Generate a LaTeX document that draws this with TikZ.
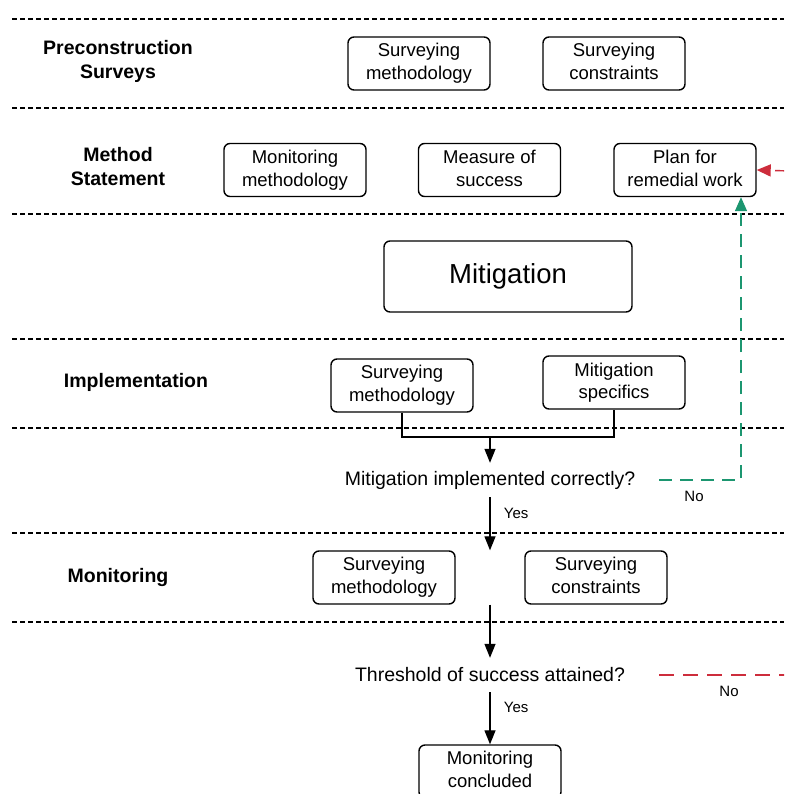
\documentclass[tikz,border=0pt]{standalone}
\usepackage{fontspec}
\setmainfont{Liberation Sans}
\usetikzlibrary{arrows.meta,calc}

\definecolor{noGreen}{RGB}{28,150,112}
\definecolor{noRed}{RGB}{205,45,60}

\tikzset{
    box/.style={draw, rounded corners=6pt, line width=1.4pt, minimum width=142pt,
        minimum height=53pt, align=center, inner sep=2pt,
        font=\fontsize{18.5}{23}\selectfont, execute at end node={\rule[-4pt]{0pt}{4pt}}},
    lane/.style={align=center, font=\bfseries\fontsize{19.5}{24}\selectfont},
    question/.style={inner sep=0pt, minimum height=34pt, font=\fontsize{19.5}{23}\selectfont},
    answer/.style={font=\fontsize{15}{18}\selectfont},
    sepline/.style={line width=1.3pt, dash pattern=on 5pt off 3pt},
    flow/.style={line width=1.3pt, -{Triangle[length=14pt,width=11pt]}},
    retry/.style={line width=1.4pt, dash pattern=on 13pt off 8pt, -{Triangle[length=14pt,width=12pt]}}
}

\begin{document}
\begin{tikzpicture}[x=1pt, y=-1pt]
        \clip (0,0) rectangle (784,794);
        \fill[white] (0,0) rectangle (784,794);

        % Draw the lane separators
        \foreach \y in {19,108,214,339,428,533,622}
            \draw[sepline] (12,\y) -- (784,\y);

        % Lane titles
        \node[lane] (t_pre) at (118,61) {Preconstruction\\Surveys};
        \node[lane] (t_ms) at (118,167) {Method\\Statement};
        \node[lane] (t_imp) at (136,382) {Implementation};
        \node[lane] (t_mon) at (118,577) {Monitoring};

        % Preconstruction surveys
        \node[box] (pre_meth) at (419,63.5) {Surveying\\methodology};
        \node[box] (pre_cons) at (614,63.5) {Surveying\\constraints};

        % Method statement
        \node[box] (ms_mon) at (295,170) {Monitoring\\methodology};
        \node[box] (ms_meas) at (489.5,170) {Measure of\\success};
        \node[box] (ms_plan) at (685,170) {Plan for\\remedial work};

        % Mitigation
        \node[box, minimum width=248pt, minimum height=71pt, execute at end node={},
              font=\fontsize{27.5}{32}\selectfont] (mit) at (508,276.5) {Mitigation};

        % Implementation
        \node[box] (imp_meth) at (402,385.5) {Surveying\\methodology};
        \node[box, font=\fontsize{18.5}{22}\selectfont] (imp_spec) at (614,382.5) {Mitigation\\specifics};
        \coordinate (jn) at (490,437);
        \draw[line width=1.3pt] (imp_meth.south) |- (imp_spec.south |- jn) -- (imp_spec.south);

        % First check
        \node[question] (q1) at (490,480) {Mitigation implemented correctly?};
        \draw[flow] (jn) -- (q1);

        % Monitoring
        \node[box] (mon_meth) at (384,577.5) {Surveying\\methodology};
        \node[box] (mon_cons) at (596,577.5) {Surveying\\constraints};
        \draw[flow] (q1) -- (q1 |- mon_meth.north) node[answer, pos=0.3, right=10pt] {Yes};

        % Second check
        \node[question] (q2) at (490,675) {Threshold of success attained?};
        \coordinate (mon_mid) at ($(mon_meth.south)!0.5!(mon_cons.south)$);
        \draw[flow] (mon_mid) -- (q2);

        \node[box] (concl) at (490,771.5) {Monitoring\\concluded};
        \draw[flow] (q2) -- (concl) node[answer, pos=0.3, right=10pt] {Yes};

        % Back to the remedial plan
        \coordinate (g_out) at (659,480);
        \coordinate (g_turn) at (741,480);
        \draw[retry, noGreen] (g_out) -- (g_turn) -- (g_turn |- ms_plan.south);
        \node[answer] (no1) at (694,496) {No};

        \coordinate (r_out) at (659,675);
        \coordinate (r_edge) at (790,675);
        \draw[line width=1.4pt, dash pattern=on 15pt off 9pt, noRed] (r_out) -- (r_edge);
        \node[answer] (no2) at (729,691) {No};
        \coordinate (r_in) at (790,171);
        \draw[retry, noRed, dash pattern=on 15pt off 9pt] (r_in) -- (ms_plan.east);
\end{tikzpicture}
\end{document}
